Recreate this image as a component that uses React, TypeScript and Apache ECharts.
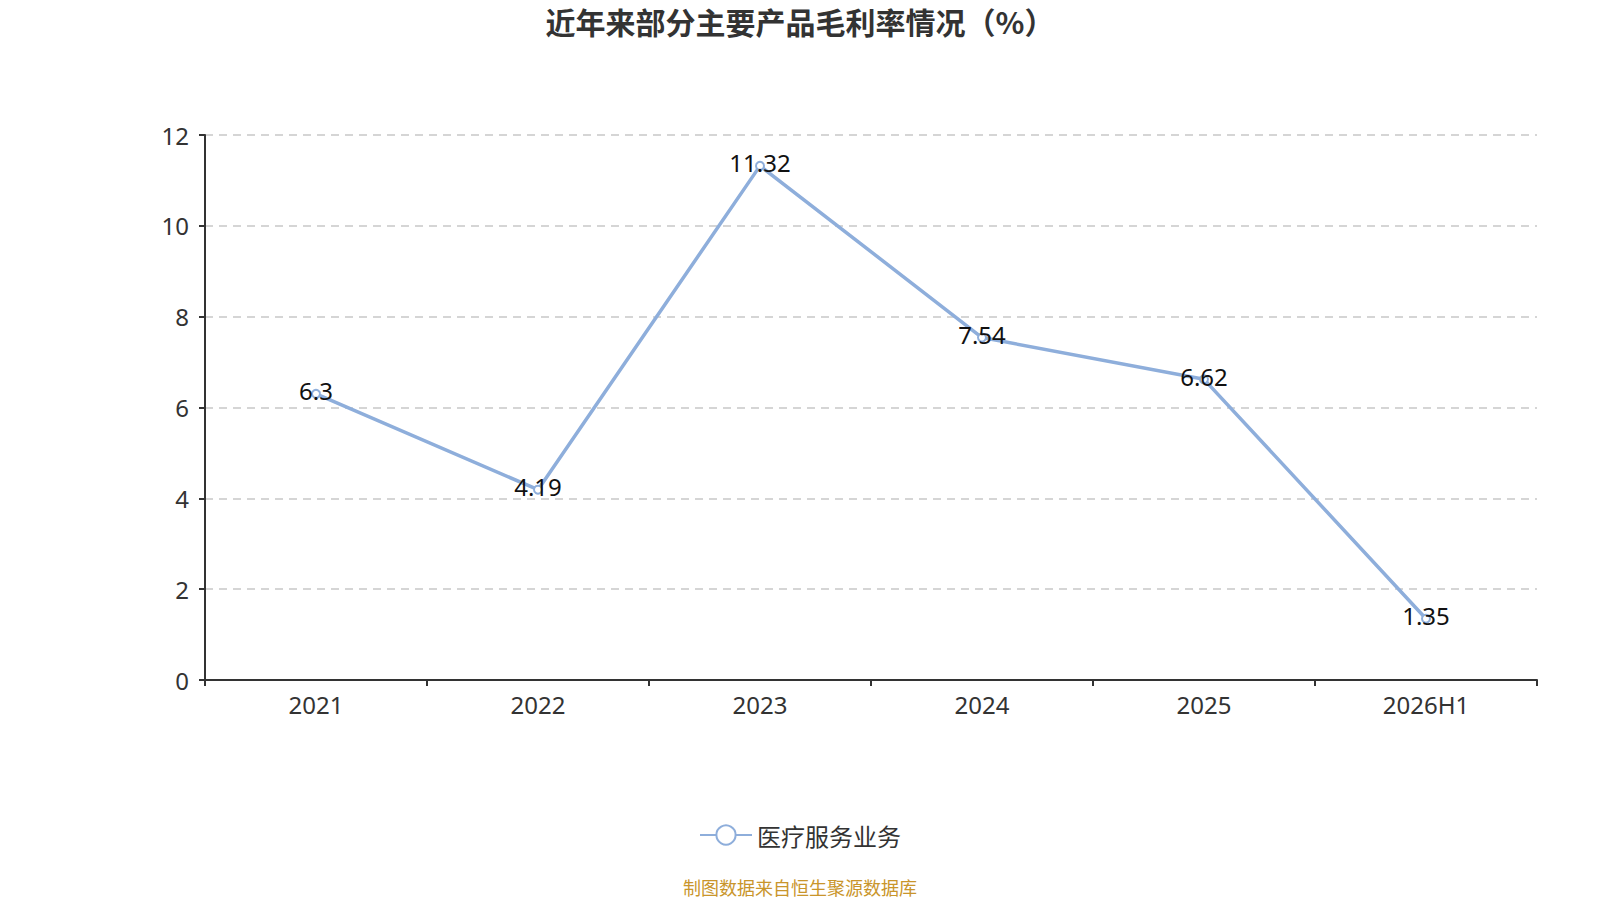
import React, { useEffect, useRef } from "react";
import * as echarts from "echarts";

const categories = ["2021", "2022", "2023", "2024", "2025", "2026H1"];
const values = [6.3, 4.19, 11.32, 7.54, 6.62, 1.35];
const seriesName = "医疗服务业务";
const titleText = "近年来部分主要产品毛利率情况（%）";
const sourceText = "制图数据来自恒生聚源数据库";

const FONT = "'Noto Sans', 'Noto Sans CJK SC', sans-serif";
const CJK = "'Noto Sans CJK SC', sans-serif";

export default function App() {
  const ref = useRef<HTMLDivElement>(null);
  useEffect(() => {
    if (!ref.current) return;
    const chart = echarts.init(ref.current, undefined, { renderer: "svg" });
    chart.setOption({
      animation: false,
      backgroundColor: "#ffffff",
      textStyle: { fontFamily: FONT },
      title: {
        text: titleText,
        left: "center",
        top: 1,
        textStyle: { fontSize: 30, fontWeight: "bold", color: "#333", fontFamily: CJK },
      },
      legend: {
        top: 818,
        left: "center",
        itemWidth: 52,
        itemHeight: 24,
        itemGap: 10,
        textStyle: { fontSize: 24, color: "#333", fontFamily: CJK },
        data: [seriesName],
      },
      graphic: [
        {
          type: "text",
          left: "center",
          bottom: 4,
          style: {
            text: sourceText,
            fill: "#c9952b",
            fontSize: 18,
            fontFamily: CJK,
          },
        },
      ],
      grid: { left: 205, right: 63, top: 135, bottom: 220 },
      xAxis: {
        type: "category",
        data: categories,
        boundaryGap: true,
        axisLine: { lineStyle: { color: "#333", width: 2 } },
        axisTick: { show: true, length: 6, lineStyle: { color: "#333", width: 2 } },
        axisLabel: { fontSize: 24, color: "#333", margin: 12 },
      },
      yAxis: {
        type: "value",
        min: 0,
        max: 12,
        interval: 2,
        axisLine: { show: true, lineStyle: { color: "#333", width: 2 } },
        axisTick: { show: true, length: 6, lineStyle: { color: "#333", width: 2 } },
        axisLabel: { fontSize: 24, color: "#333", margin: 16 },
        splitLine: { lineStyle: { type: [8, 6], color: "#c8c8c8", width: 1.5 } },
      },
      series: [
        {
          name: seriesName,
          type: "line",
          data: values,
          symbol: "emptyCircle",
          symbolSize: 8,
          lineStyle: { color: "#8eaedb", width: 3.5 },
          itemStyle: { color: "#8eaedb", borderWidth: 2 },
          label: {
            show: true,
            position: "inside",
            offset: [0, -3],
            fontSize: 24,
            color: "#111",
            fontFamily: FONT,
          },
        },
      ],
    });
    return () => chart.dispose();
  }, []);
  return (
    <div
      ref={ref}
      style={{ position: "absolute", left: 0, top: 0, width: 1600, height: 900 }}
    />
  );
}
